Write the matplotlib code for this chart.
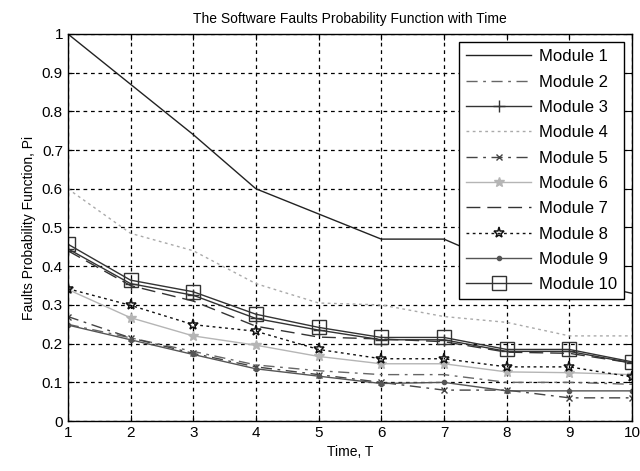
import matplotlib
matplotlib.use("Agg")
import matplotlib.pyplot as plt
import numpy as np

plt.rcParams['font.family'] = ['Liberation Sans', 'DejaVu Sans']

time_T = [1, 2, 3, 4, 5, 6, 7, 8, 9, 10]
module_names = ["Module 1", "Module 2", "Module 3", "Module 4", "Module 5",
                "Module 6", "Module 7", "Module 8", "Module 9", "Module 10"]

m1 = [1.00, 0.87, 0.74, 0.60, 0.535, 0.47, 0.47, 0.40, 0.365, 0.33]
m2 = [0.25, 0.215, 0.18, 0.145, 0.13, 0.12, 0.12, 0.10, 0.10, 0.095]
m3 = [0.445, 0.355, 0.325, 0.265, 0.235, 0.21, 0.21, 0.18, 0.18, 0.15]
m4 = [0.60, 0.485, 0.44, 0.355, 0.305, 0.30, 0.27, 0.255, 0.22, 0.22]
m5 = [0.27, 0.215, 0.175, 0.14, 0.12, 0.10, 0.08, 0.08, 0.06, 0.06]
m6 = [0.34, 0.267, 0.22, 0.196, 0.167, 0.148, 0.148, 0.127, 0.125, 0.12]
m7 = [0.44, 0.35, 0.31, 0.245, 0.217, 0.212, 0.205, 0.178, 0.175, 0.15]
m8 = [0.342, 0.299, 0.249, 0.232, 0.185, 0.161, 0.161, 0.14, 0.14, 0.114]
m9 = [0.248, 0.21, 0.172, 0.135, 0.116, 0.097, 0.10, 0.078, 0.078, 0.078]
m10 = [0.457, 0.364, 0.334, 0.276, 0.242, 0.216, 0.216, 0.185, 0.185, 0.153]

series = [m1, m2, m3, m4, m5, m6, m7, m8, m9, m10]
styles = [
    dict(color='#222222', linestyle='-', marker=None),
    dict(color='#666666', linestyle=(0, (8, 4, 2, 4)), marker=None),
    dict(color='#333333', linestyle='-', marker='+', markersize=9),
    dict(color='#aaaaaa', linestyle=(0, (2, 2.5)), marker=None),
    dict(color='#444444', linestyle=(0, (8, 4, 2, 4)), marker='x', markersize=5),
    dict(color='#b5b5b5', linestyle='-', marker='*', markersize=7),
    dict(color='#333333', linestyle=(0, (10, 5)), marker=None),
    dict(color='#111111', linestyle=(0, (2, 2.5)), marker='*', markersize=8,
         markerfacecolor='none', markeredgewidth=1.1),
    dict(color='#555555', linestyle='-', marker='.', markersize=6),
    dict(color='#333333', linestyle='-', marker='s', markersize=10,
         markerfacecolor='none'),
]

fig = plt.figure(figsize=(6.4, 4.71), dpi=100)
ax = fig.add_axes([0.106, 0.106, 0.8815, 0.822])

for name, vals, st in zip(module_names, series, styles):
    ax.plot(time_T, vals, label=name, linewidth=1.0, **st)

ax.set_xlim(1, 10)
ax.set_ylim(0, 1)
ax.set_xticks(time_T)
yt = np.round(np.arange(0, 1.01, 0.1), 1)
ax.set_yticks(yt)
ax.set_yticklabels(['0'] + [f"{v:g}" for v in yt[1:-1]] + ['1'])
ax.grid(True, color='black', linestyle=(0, (3, 3)), linewidth=0.9)
ax.tick_params(direction='in', top=True, right=True, labelsize=11, length=4)
for s in ax.spines.values():
    s.set_linewidth(1.0)

ax.set_title("The Software Faults Probability Function with Time", fontsize=10, pad=8)
ax.set_xlabel("Time, T", fontsize=10)
ax.set_ylabel("Faults Probability Function, Pi", fontsize=10)

leg = ax.legend(loc='upper right', fontsize=12, fancybox=False, framealpha=1,
                edgecolor='black', borderaxespad=0.5, handlelength=3.9,
                handletextpad=0.45, labelspacing=0.62, borderpad=0.42)
leg.get_frame().set_linewidth(1.0)

fig.savefig("out.png", dpi=100)
